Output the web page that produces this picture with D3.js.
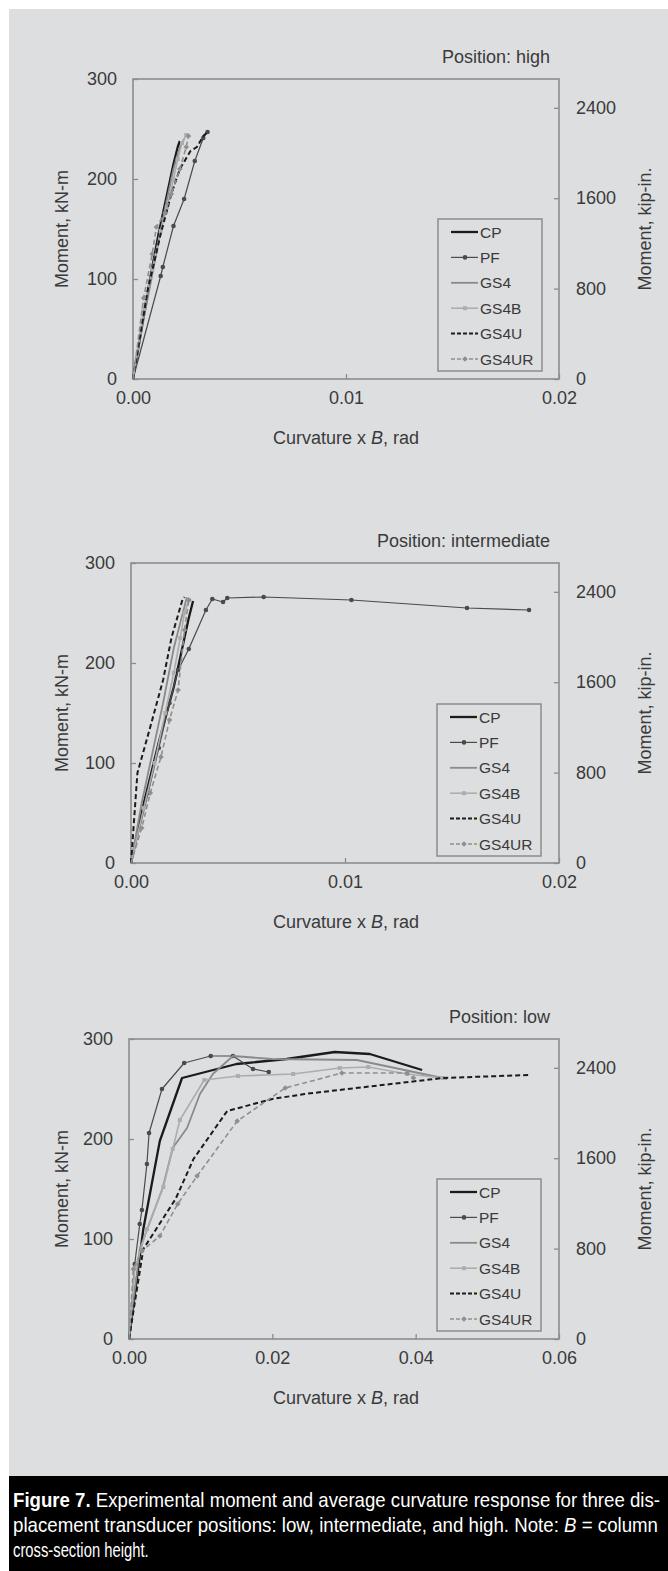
<!DOCTYPE html>
<html>
<head>
<meta charset="utf-8">
<script src="https://cdn.jsdelivr.net/npm/d3@7/dist/d3.min.js"></script>
<style>
  html, body { margin: 0; padding: 0; background: #ffffff; }
  svg { display: block; }
</style>
</head>
<body>
<div id="chart"></div>
<script>
// ---- Data (curvature x B in rad, moment in kN-m) ----
const seriesNames = ['CP', 'PF', 'GS4', 'GS4B', 'GS4U', 'GS4UR'];

// Position: high
const highCP = [[0, 0], [0.0004, 50], [0.0008, 100], [0.0012, 145], [0.0016, 185], [0.0019, 215], [0.0021, 232], [0.0022, 238]];
const highPF = [[0, 0], [0.0013, 103], [0.0014, 112], [0.0019, 153], [0.0024, 180], [0.0029, 218], [0.0033, 241], [0.0035, 247]];
const highGS4 = [[0, 0], [0.0005, 60], [0.001, 115], [0.0015, 170], [0.0019, 210], [0.0022, 232], [0.0024, 240]];
const highGS4B = [[0, 0], [0.0005, 70], [0.0009, 110], [0.0013, 148], [0.0016, 172], [0.0019, 200], [0.0021, 220], [0.0023, 236], [0.0025, 244]];
const highGS4U = [[0, 0], [0.0007, 90], [0.0013, 145], [0.0018, 185], [0.0022, 210], [0.0027, 228], [0.003, 232], [0.0033, 243], [0.0035, 247]];
const highGS4UR = [[0, 0], [0.0005, 81], [0.0009, 125], [0.0011, 152], [0.0015, 166], [0.0018, 185], [0.0022, 210], [0.0025, 232], [0.0026, 243]];

// Position: intermediate
const midCP = [[0, 0], [0.0006, 60], [0.0013, 121], [0.002, 176], [0.0027, 245], [0.0029, 262]];
const midPF = [[0, 0], [0.0008, 70], [0.0013, 115], [0.0018, 160], [0.0022, 193], [0.0027, 214], [0.0035, 253], [0.0038, 264], [0.0043, 261], [0.0045, 265], [0.0062, 266], [0.0103, 263], [0.0157, 255], [0.0186, 253]];
const midGS4 = [[0, 0], [0.0005, 60], [0.001, 110], [0.0015, 160], [0.002, 215], [0.0026, 265], [0.0028, 262]];
const midGS4B = [[0, 0], [0.0006, 55], [0.0011, 100], [0.0016, 150], [0.002, 190], [0.0023, 225], [0.0025, 250], [0.0027, 263]];
const midGS4U = [[0, 0], [0.0003, 90], [0.0009, 136], [0.0015, 183], [0.0019, 226], [0.0024, 263], [0.0025, 266]];
const midGS4UR = [[0, 0], [0.0005, 35], [0.0009, 70], [0.0014, 106], [0.0018, 143], [0.0022, 173], [0.0025, 233], [0.0027, 263]];

// Position: low
const lowCP = [[0, 0], [0.002, 110], [0.0043, 198], [0.0074, 261], [0.015, 275], [0.022, 280], [0.0287, 287], [0.0336, 285], [0.0409, 269]];
const lowPF = [[0, 0], [0.0008, 75], [0.0015, 115], [0.0018, 129], [0.0025, 175], [0.0028, 206], [0.0046, 250], [0.0077, 276], [0.0114, 283], [0.0145, 283], [0.0173, 270], [0.0195, 267]];
const lowGS4 = [[0, 0], [0.0015, 90], [0.0047, 151], [0.0061, 191], [0.0081, 211], [0.0099, 245], [0.0117, 265], [0.0145, 283], [0.02, 280], [0.0318, 279], [0.0444, 260]];
const lowGS4B = [[0, 0], [0.0008, 70], [0.0025, 110], [0.0048, 152], [0.0061, 190], [0.0071, 219], [0.0105, 259], [0.0152, 263], [0.0229, 265], [0.0294, 271], [0.0334, 272], [0.0388, 265], [0.0438, 261]];
const lowGS4U = [[0, 0], [0.002, 90], [0.0065, 140], [0.009, 180], [0.0137, 228], [0.02, 240], [0.0245, 245], [0.0438, 261], [0.0557, 264]];
const lowGS4UR = [[0, 0], [0.0006, 70], [0.0018, 88], [0.0043, 103], [0.0068, 135], [0.0095, 163], [0.0151, 218], [0.0218, 251], [0.0297, 266], [0.0388, 266], [0.0397, 261]];

// Axis ticks
const momentTicks = [0, 100, 200, 300];
const kipTicks = [0, 800, 1600, 2400];
const curvTicksSmall = [0, 0.01, 0.02];
const curvTicksLarge = [0, 0.02, 0.04, 0.06];
const KIPIN_PER_KNM = 8.8507;

const captionLines = [
  ['Figure 7.', ' Experimental moment and average curvature response for three dis-'],
  ['', 'placement transducer positions: low, intermediate, and high. Note: ', 'B', ' = column'],
  ['', 'cross-section height.']
];

// ---- Styles ----
const FONT = '"Liberation Sans", Arial, Helvetica, sans-serif';
const BG = '#dddee0';
const AXIS = '#8c8c8c';
const TEXT = '#3a3a3a';

const styles = {
  CP: { color: '#1b1b1b', width: 2.3, dash: null, marker: null },
  PF: { color: '#4a4a4a', width: 1.2, dash: null, marker: 'circle' },
  GS4: { color: '#8a8a8a', width: 1.8, dash: null, marker: null },
  GS4B: { color: '#adadad', width: 1.6, dash: null, marker: 'square' },
  GS4U: { color: '#1b1b1b', width: 2.0, dash: '5,3', marker: null },
  GS4UR: { color: '#8f8f8f', width: 1.6, dash: '5,3', marker: 'diamond' }
};

const panels = [
  { title: 'Position: high', top: 79, left: 133, xMax: 0.02, xTicks: curvTicksSmall, legendTop: 219, legendLeft: 438,
    data: [highCP, highPF, highGS4, highGS4B, highGS4U, highGS4UR] },
  { title: 'Position: intermediate', top: 563, left: 131, xMax: 0.02, xTicks: curvTicksSmall, legendTop: 704, legendLeft: 437,
    data: [midCP, midPF, midGS4, midGS4B, midGS4U, midGS4UR] },
  { title: 'Position: low', top: 1039, left: 129, xMax: 0.06, xTicks: curvTicksLarge, legendTop: 1179, legendLeft: 437,
    data: [lowCP, lowPF, lowGS4, lowGS4B, lowGS4U, lowGS4UR] }
];

const W = 668;
const H = 1571;
const PLOT_RIGHT = 559;
const PLOT_H = 300;

const svg = d3.select('#chart')
  .append('svg')
  .attr('width', W)
  .attr('height', H)
  .style('font-family', FONT);

// Background panel and caption bar
svg.append('rect').attr('x', 9).attr('y', 9).attr('width', W - 9).attr('height', 1467).attr('fill', BG);
svg.append('rect').attr('x', 9).attr('y', 1476).attr('width', W - 9).attr('height', H - 1476).attr('fill', '#000');

/**
 * Draws a small marker glyph.
 *
 * @param {d3.Selection} g - Group to draw into
 * @param {string} type - Marker type
 * @param {number} x - Center x
 * @param {number} y - Center y
 * @param {string} color - Fill colour
 */
function drawMarker(g, type, x, y, color) {
  if (type === 'circle') {
    g.append('circle').attr('cx', x).attr('cy', y).attr('r', 2.3).attr('fill', color);
  } else if (type === 'square') {
    g.append('rect').attr('x', x - 2).attr('y', y - 2).attr('width', 4).attr('height', 4).attr('fill', color);
  } else if (type === 'diamond') {
    g.append('path')
      .attr('d', `M${x},${y - 2.8}L${x + 2.8},${y}L${x},${y + 2.8}L${x - 2.8},${y}Z`)
      .attr('fill', color);
  }
}

panels.forEach((p) => {
  const bottom = p.top + PLOT_H;
  const x = d3.scaleLinear().domain([0, p.xMax]).range([p.left, PLOT_RIGHT]);
  const y = d3.scaleLinear().domain([0, 300]).range([bottom, p.top]);
  const yRight = d3.scaleLinear().domain([0, 300 * KIPIN_PER_KNM]).range([bottom, p.top]);

  const g = svg.append('g');

  // Frame
  g.append('rect')
    .attr('x', p.left).attr('y', p.top)
    .attr('width', PLOT_RIGHT - p.left).attr('height', PLOT_H)
    .attr('fill', 'none').attr('stroke', AXIS).attr('stroke-width', 1.6);

  // Axes with inward ticks
  const styleAxis = (sel) => {
    sel.select('.domain').remove();
    sel.selectAll('line').attr('stroke', AXIS).attr('stroke-width', 1.3);
    sel.selectAll('text').attr('fill', TEXT).style('font-size', '18px').style('font-family', FONT);
  };

  g.append('g')
    .attr('transform', `translate(${p.left},0)`)
    .call(d3.axisLeft(y).tickValues(momentTicks).tickSize(-5).tickPadding(16).tickFormat(d3.format('d')))
    .call(styleAxis);

  g.append('g')
    .attr('transform', `translate(${PLOT_RIGHT},0)`)
    .call(d3.axisRight(yRight).tickValues(kipTicks).tickSize(-5).tickPadding(17).tickFormat(d3.format('d')))
    .call(styleAxis);

  g.append('g')
    .attr('transform', `translate(0,${bottom})`)
    .call(d3.axisBottom(x).tickValues(p.xTicks).tickSize(-5).tickPadding(12).tickFormat(d3.format('.2f')))
    .call(styleAxis);

  // Axis titles
  g.append('text')
    .attr('transform', `translate(68,${p.top + PLOT_H / 2}) rotate(-90)`)
    .attr('text-anchor', 'middle')
    .attr('fill', TEXT).style('font-size', '18px')
    .text('Moment, kN-m');

  g.append('text')
    .attr('transform', `translate(651,${p.top + PLOT_H / 2}) rotate(-90)`)
    .attr('text-anchor', 'middle')
    .attr('fill', TEXT).style('font-size', '18px')
    .text('Moment, kip-in.');

  const xt = g.append('text')
    .attr('x', 346).attr('y', bottom + 65)
    .attr('text-anchor', 'middle')
    .attr('fill', TEXT).style('font-size', '18px');
  xt.append('tspan').text('Curvature x ');
  xt.append('tspan').style('font-style', 'italic').text('B');
  xt.append('tspan').text(', rad');

  g.append('text')
    .attr('x', 550).attr('y', p.top - 16)
    .attr('text-anchor', 'end')
    .attr('fill', TEXT).style('font-size', '18px')
    .text(p.title);

  // Series
  const line = d3.line().x((d) => x(d[0])).y((d) => y(d[1]));
  const plot = g.append('g');
  p.data.forEach((values, i) => {
    const st = styles[seriesNames[i]];
    plot.append('path')
      .datum(values)
      .attr('d', line)
      .attr('fill', 'none')
      .attr('stroke', st.color)
      .attr('stroke-width', st.width)
      .attr('stroke-dasharray', st.dash)
      .attr('stroke-linejoin', 'round');
    if (st.marker) {
      values.slice(1).forEach((d) => drawMarker(plot, st.marker, x(d[0]), y(d[1]), st.color));
    }
  });

  // Legend
  const lg = g.append('g').attr('transform', `translate(${p.legendLeft},${p.legendTop})`);
  lg.append('rect')
    .attr('width', 104).attr('height', 152)
    .attr('fill', BG).attr('stroke', AXIS).attr('stroke-width', 1.5);
  seriesNames.forEach((name, i) => {
    const st = styles[name];
    const ly = 13 + i * 25.4;
    lg.append('line')
      .attr('x1', 13).attr('x2', 40).attr('y1', ly).attr('y2', ly)
      .attr('stroke', st.color).attr('stroke-width', st.width)
      .attr('stroke-dasharray', st.dash ? '4,2' : null);
    if (st.marker) {
      drawMarker(lg, st.marker, 27, ly, st.color);
    }
    lg.append('text')
      .attr('x', 42).attr('y', ly + 5.5)
      .attr('fill', TEXT).style('font-size', '15.5px')
      .text(name);
  });
});

// Caption: condensed look via horizontal scaling of a regular sans face
const CAP_SCALE = 0.74;
const cap = svg.append('g')
  .attr('transform', `scale(${CAP_SCALE},1)`)
  .style('font-family', FONT)
  .style('font-size', '20px');
captionLines.forEach((parts, i) => {
  const t = cap.append('text')
    .attr('x', 13 / CAP_SCALE)
    .attr('y', 1507 + i * 25)
    .attr('fill', '#fff');
  if (i < 2) {
    t.attr('textLength', (i === 0 ? 647 : 645) / CAP_SCALE).attr('lengthAdjust', 'spacingAndGlyphs');
  }
  parts.forEach((s, j) => {
    if (!s) return;
    const span = t.append('tspan').text(s);
    if (i === 0 && j === 0) span.style('font-weight', 'bold');
    if (s === 'B') span.style('font-style', 'italic');
  });
});
</script>
</body>
</html>
